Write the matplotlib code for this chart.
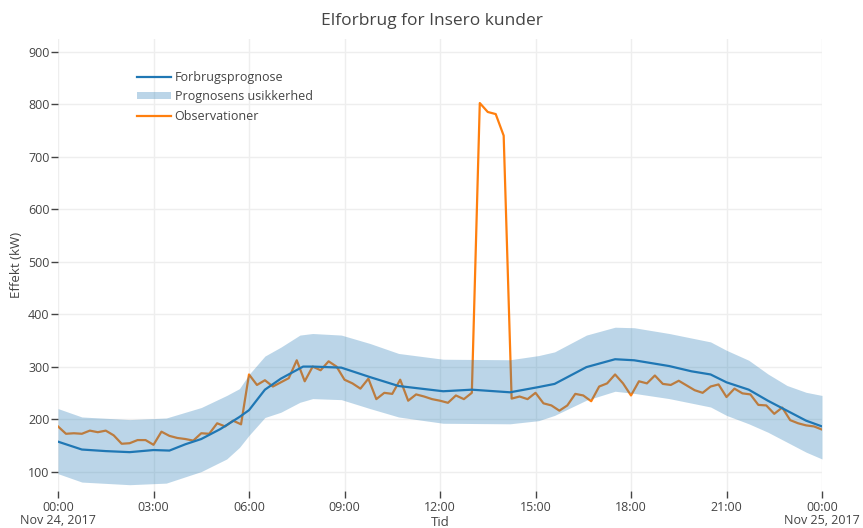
import matplotlib
matplotlib.use("Agg")
import matplotlib.pyplot as plt
import numpy as np

plt.rcParams['font.family'] = ['Open Sans', 'DejaVu Sans']

# prognose (timer fra midnat)
prog_timer = [0, 0.75, 1.5, 2.25, 3.0, 3.5, 4.0, 4.5, 5.1, 5.7, 6.0, 6.5, 7.0, 7.7,
              8.0, 8.9, 9.8, 10.7, 12.1, 13.0, 14.2, 15.1, 15.6, 16.6, 17.5, 18.1,
              19.2, 19.9, 20.5, 21.0, 21.7, 22.3, 22.9, 23.5, 24]
prognose = [157, 142, 139, 137, 141, 140, 152, 162, 181, 204, 217, 256, 277, 300,
            300, 298, 280, 263, 253, 256, 251, 261, 267, 299, 314, 312,
            301, 291, 285, 270, 256, 235, 216, 197, 186]

# usikkerhedsbånd
baand_timer = [0, 0.75, 2.25, 3.4, 4.5, 5.3, 5.7, 6.0, 6.5, 7.0, 7.6, 8.0, 8.9, 9.8,
               10.7, 12.1, 14.2, 15.1, 15.6, 16.6, 17.5, 18.1, 19.2, 20.5, 21.0,
               21.7, 22.3, 22.9, 23.5, 24]
oevre = [220, 204, 199, 202, 222, 245, 258, 285, 320, 337, 360, 363, 360, 344,
         325, 314, 313, 321, 328, 360, 375, 374, 363, 347, 331,
         312, 286, 264, 251, 245]
nedre = [96, 80, 75, 78, 100, 124, 146, 169, 203, 213, 232, 239, 237, 220,
         204, 192, 191, 197, 207, 236, 253, 249, 239, 223, 207,
         191, 175, 156, 137, 124]

# observationer hvert kvarter
observationer = [
    186, 172, 173, 172, 178, 175, 178, 169, 153, 154, 160, 160, 151, 176, 168, 164,
    162, 159, 173, 172, 192, 186, 197, 190,
    285, 265, 274, 262, 270, 278, 312, 272, 300, 293, 310, 300, 275, 268, 258, 277,
    238, 250, 248, 275, 235, 247, 243, 238, 235,
    231, 245, 238, 250, 802, 785, 781, 740, 239, 243, 238, 250, 230, 226, 216, 226,
    248, 245, 234, 262, 268, 285, 268, 245,
    272, 268, 283, 267, 265, 273, 264, 255, 250, 262, 266, 242, 258, 249, 247, 227,
    226, 210, 222, 198, 192, 188, 186, 180]
obs_timer = np.arange(len(observationer)) * 0.25

x_ticks = [0, 3, 6, 9, 12, 15, 18, 21, 24]
x_labels = ["00:00\nNov 24, 2017", "03:00", "06:00", "09:00", "12:00", "15:00",
            "18:00", "21:00", "00:00\nNov 25, 2017"]
y_ticks = [100, 200, 300, 400, 500, 600, 700, 800, 900]

tekst = '#444444'
blaa = '#1f77b4'
orange = '#ff7f0e'

fig = plt.figure(figsize=(8.63, 5.28), dpi=100)
ax = fig.add_axes([58 / 863, 1 - 491 / 528, 764 / 863, 452 / 528])

l_obs, = ax.plot(obs_timer, observationer, color=orange, lw=1.6, zorder=2,
                 label="Observationer")
baand = ax.fill_between(baand_timer, nedre, oevre, color=blaa, alpha=0.3, lw=0,
                        zorder=3, label="Prognosens usikkerhed")
l_prog, = ax.plot(prog_timer, prognose, color=blaa, lw=1.6, zorder=4,
                  label="Forbrugsprognose")

ax.set_xlim(0, 24)
ax.set_ylim(63, 924)
ax.set_xticks(x_ticks)
ax.set_xticklabels(x_labels)
ax.set_yticks(y_ticks)

ax.grid(True, color='#eeeeee', lw=1, zorder=0)
ax.set_axisbelow(True)
for s in ax.spines.values():
    s.set_visible(False)
ax.tick_params(axis='both', colors=tekst, labelsize=9, length=5, width=1)
ax.tick_params(axis='y', pad=1)
ax.tick_params(axis='x', pad=2.5)
for lbl in ax.get_xticklabels():
    lbl.set_linespacing(1.0)

ax.set_xlabel("Tid", color=tekst, fontsize=9.5, labelpad=-8)
ax.set_ylabel("Effekt (kW)", color=tekst, fontsize=9.5, labelpad=4)

fig.text(0.5, 1 - 21 / 528, "Elforbrug for Insero kunder", ha='center', va='center',
         color=tekst, fontsize=12.5)

leg = ax.legend(handles=[l_prog, baand, l_obs], loc='upper left',
                bbox_to_anchor=((137 - 58) / 764, (491 - 71) / 452),
                frameon=False, fontsize=9, handlelength=2.7, handleheight=0.5,
                handletextpad=0.3, labelspacing=0.5, borderpad=0, borderaxespad=0)
for t in leg.get_texts():
    t.set_color(tekst)

fig.savefig("out.png", dpi=100)
